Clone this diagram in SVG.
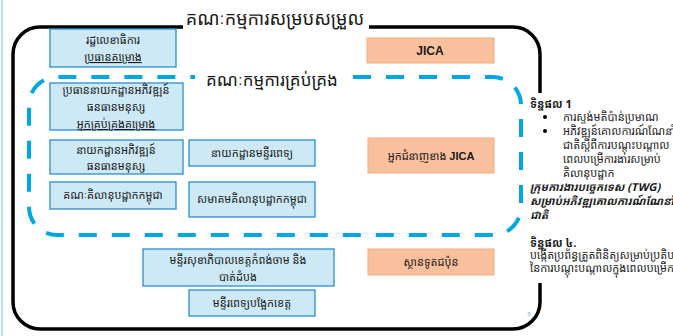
<svg xmlns="http://www.w3.org/2000/svg" width="673" height="336" viewBox="0 0 673 336">
<style>
text{font-family:"Noto Sans Khmer","Khmer OS","Khmer OS System","Liberation Sans","DejaVu Sans",sans-serif;fill:#1a1a1a}
.b{fill:#cde9f5;stroke:#2a8fcf;stroke-width:1.3}
.s{fill:#f9c09d;stroke:#f5ab7f;stroke-width:1}
.t{font-size:11px;text-anchor:middle}
.u{text-decoration:underline}
.r{font-size:11px}
.h{font-size:18px;text-anchor:middle}
.en{font-family:"Liberation Sans",Arial,sans-serif;font-weight:bold;font-size:12px}
</style>
<rect width="673" height="336" fill="#ffffff"/>
<line x1="2" y1="0" x2="2" y2="336" stroke="#a6d4ec" stroke-width="1.5"/>
<g id="connectors" fill="none">
<path d="M183 27 H40 A27 27 0 0 0 13 54 V302 A27 27 0 0 0 40 329 H513 A27 27 0 0 0 540 302 V283" stroke="#000" stroke-width="3.5"/>
<path d="M369 27 H513 A27 27 0 0 1 540 54 V93" stroke="#000" stroke-width="3.5"/>
<path d="M353 77 H493 A28 28 0 0 1 521 105 V207 A28 28 0 0 1 493 235 H57 A28 28 0 0 1 29 207 V105 A28 28 0 0 1 57 77 H195" stroke="#00a8e3" stroke-width="4" stroke-dasharray="18 15"/>
</g>
<g id="title-coord"><text class="h" x="275" y="25">គណៈកម្មការសម្របសម្រួល</text></g>
<g id="title-mgmt"><text class="h" x="272" y="86" style="font-size:17px">គណៈកម្មការគ្រប់គ្រង</text></g>
<g id="n1"><rect class="b" x="50" y="29" width="126" height="38"/>
<text class="t" x="113" y="44">រដ្ឋលេខាធិការ</text>
<text class="t u" x="113" y="61">ប្រធានគម្រោង</text></g>
<g id="n2"><rect class="b" x="50" y="83" width="133" height="47"/>
<text class="t" x="116" y="94">ប្រធាននាយកដ្ឋានអភិវឌ្ឍន៍</text>
<text class="t" x="116" y="111">ធនធានមនុស្ស</text>
<text class="t u" x="116" y="128">អ្នកគ្រប់គ្រងគម្រោង</text></g>
<g id="n3"><rect class="b" x="50" y="140" width="133" height="34"/>
<text class="t" x="116" y="154">នាយកដ្ឋានអភិវឌ្ឍន៍</text>
<text class="t" x="116" y="170">ធនធានមនុស្ស</text></g>
<g id="n4"><rect class="b" x="189" y="140" width="126" height="26"/>
<text class="t" x="252" y="157">នាយកដ្ឋានមន្ទីរពេទ្យ</text></g>
<g id="n5"><rect class="b" x="50" y="182" width="126" height="27"/>
<text class="t" x="113" y="199">គណៈគិលានុបដ្ឋាកកម្ពុជា</text></g>
<g id="n6"><rect class="b" x="189" y="182" width="126" height="35"/>
<text class="t" x="252" y="203">សមាគមគិលានុបដ្ឋាកកម្ពុជា</text></g>
<g id="n7"><rect class="b" x="143" y="249" width="191" height="37"/>
<text class="t" x="238" y="264">មន្ទីរសុខាភិបាលខេត្តកំពង់ចាម និង</text>
<text class="t" x="238" y="281">បាត់ដំបង</text></g>
<g id="n8"><rect class="b" x="189" y="290" width="126" height="26"/>
<text class="t" x="252" y="307">មន្ទីរពេទ្យបង្អែកខេត្ត</text></g>
<g id="s1"><rect class="s" x="367" y="38" width="127" height="25"/>
<text class="t en" x="430" y="55">JICA</text></g>
<g id="s2"><rect class="s" x="368" y="138" width="126" height="35"/>
<text class="t" x="431" y="160"><tspan>អ្នកជំនាញខាង </tspan><tspan class="en" style="font-size:11px">JICA</tspan></text></g>
<g id="s3"><rect class="s" x="368" y="249" width="126" height="26"/>
<text class="t" x="431" y="266">ស្ថានទូតជប៉ុន</text></g>
<g id="outputs">
<text class="r" x="530" y="108" font-weight="bold">ទិន្នផល 1</text>
<circle cx="545" cy="117" r="2" fill="#000"/>
<circle cx="545" cy="131" r="2" fill="#000"/>
<text class="r" x="563" y="121">ការស្ទង់មតិប៉ាន់ប្រមាណ</text>
<text class="r" x="563" y="135">អភិវឌ្ឍន៍គោលការណ៍ណែនាំ</text>
<text class="r" x="563" y="149">ជាតិស្តីពីការបណ្តុះបណ្តាល</text>
<text class="r" x="563" y="163">ពេលបម្រើការងារសម្រាប់</text>
<text class="r" x="563" y="177">គិលានុបដ្ឋាក</text>
<text class="r" x="530" y="191" font-weight="bold" font-style="italic">ក្រុមការងារបច្ចេកទេស (TWG)</text>
<text class="r" x="530" y="205" font-weight="bold" font-style="italic">សម្រាប់អភិវឌ្ឍគោលការណ៍ណែនាំ</text>
<text class="r" x="530" y="219" font-weight="bold" font-style="italic">ជាតិ</text>
<text class="r" x="530" y="247" font-weight="bold">ទិន្នផល ៤.</text>
<text class="r" x="530" y="259">បង្កើតប្រព័ន្ធត្រួតពិនិត្យសម្រាប់ប្រតិបត្តិ</text>
<text class="r" x="530" y="272">នៃការបណ្តុះបណ្តាលក្នុងពេលបម្រើការងារ</text>
</g>
<text x="527" y="316" style="font-size:6px;fill:#6aa0c8">3</text>
</svg>
